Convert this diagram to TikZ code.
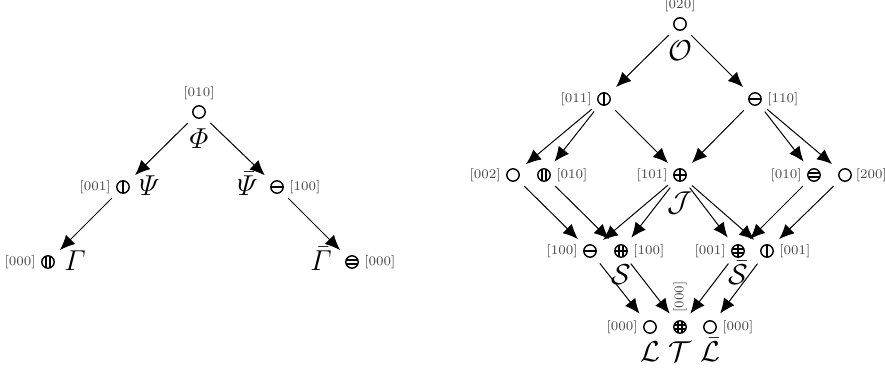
\documentclass[tikz,border=0pt]{standalone}
\usepackage{amsmath}
\usetikzlibrary{arrows.meta,positioning}
% lines inside a cell
\newcommand\vlines[1]{\foreach \off in {#1}{\draw[line width=0.6pt] ([xshift=\off]path picture bounding box.north) -- ([xshift=\off]path picture bounding box.south);}}
\newcommand\hlines[1]{\foreach \off in {#1}{\draw[line width=0.6pt] ([yshift=\off]path picture bounding box.west) -- ([yshift=\off]path picture bounding box.east);}}
\tikzset{cell/.style={draw,line width=0.7pt,circle,minimum size=6.2pt,inner sep=0pt},
  vone/.style={cell,path picture={\vlines{0pt}}},
  vtwo/.style={cell,path picture={\vlines{-1pt,1pt}}},
  hone/.style={cell,path picture={\hlines{0pt}}},
  htwo/.style={cell,path picture={\hlines{-1pt,1pt}}},
  cross/.style={cell,path picture={\vlines{0pt}\hlines{0pt}}},
  crossvv/.style={cell,path picture={\vlines{-1pt,1pt}\hlines{0pt}}},
  crosshh/.style={cell,path picture={\vlines{0pt}\hlines{-1pt,1pt}}},
  grid/.style={cell,path picture={\vlines{-1pt,1pt}\hlines{-1pt,1pt}}},
  tag/.style={font=\fontsize{6.6pt}{8pt}\selectfont,text=black!72,inner sep=1pt},
  sym/.style={font=\Large,inner sep=0.5pt,text height=9.5pt,text depth=1pt},
  flow/.style={line width=0.5pt,-{Latex[length=7.5pt,width=6.5pt]},shorten <=4.5pt,shorten >=5pt}}

\begin{document}
\begin{tikzpicture}[x=0.5pt,y=-0.5pt]
  \useasboundingbox (0,0) rectangle (885,369);
  % left lattice
  \node[cell] (phi) at (199,112) {};
  \node[vone] (psi) at (123,187) {};
  \node[hone] (psib) at (277,187) {};
  \node[vtwo] (gam) at (48,262) {};
  \node[htwo] (gamb) at (352,262) {};
  \node[tag,above=1.2pt of phi] (phi-t) {[010]};
  \node[sym,below=4.5pt of phi] (phi-s) {$\varPhi$};
  \node[tag,left=1.5pt of psi] (psi-t) {[001]};
  \node[sym,right=4pt of psi] (psi-s) {$\varPsi$};
  \node[tag,right=1.5pt of psib] (psib-t) {[100]};
  \node[sym,left=5.5pt of psib] (psib-s) {$\bar{\varPsi}$};
  \node[tag,left=1.5pt of gam] (gam-t) {[000]};
  \node[sym,right=4pt of gam] (gam-s) {$\varGamma$};
  \node[tag,right=1.5pt of gamb] (gamb-t) {[000]};
  \node[sym,left=6pt of gamb] (gamb-s) {$\bar{\varGamma}$};
  \draw[flow] (phi) -- (psi);
  \draw[flow] (phi) -- (psib);
  \draw[flow] (psi) -- (gam);
  \draw[flow] (psib) -- (gamb);

  % right lattice
  \node[cell] (o) at (680,24) {};
  \node[vone] (a) at (604,99) {};
  \node[hone] (b) at (755,99) {};
  \node[cell] (c1) at (513,175) {};
  \node[vtwo] (c2) at (544,175) {};
  \node[cross] (j) at (680,175) {};
  \node[htwo] (c4) at (814,175) {};
  \node[cell] (c5) at (845,175) {};
  \node[hone] (s1) at (590,251) {};
  \node[crossvv] (s2) at (621,251) {};
  \node[crosshh] (s3) at (738,251) {};
  \node[vone] (s4) at (767,251) {};
  \node[cell] (l) at (650,327) {};
  \node[grid] (t) at (680,327) {};
  \node[cell] (lb) at (710,327) {};
  % tags
  \node[tag,above=1.2pt of o] (o-t) {[020]};
  \node[tag,left=1.5pt of a] (a-t) {[011]};
  \node[tag,right=1.5pt of b] (b-t) {[110]};
  \node[tag,left=1.5pt of c1] (c1-t) {[002]};
  \node[tag,right=1.5pt of c2] (c2-t) {[010]};
  \node[tag,left=1.5pt of j] (j-t) {[101]};
  \node[tag,left=1.5pt of c4] (c4-t) {[010]};
  \node[tag,right=0.8pt of c5] (c5-t) {[200]};
  \node[tag,left=1.5pt of s1] (s1-t) {[100]};
  \node[tag,right=1.5pt of s2] (s2-t) {[100]};
  \node[tag,left=1.5pt of s3] (s3-t) {[001]};
  \node[tag,right=1.5pt of s4] (s4-t) {[001]};
  \node[tag,left=1.5pt of l] (l-t) {[000]};
  \node[tag,rotate=90,above=2.5pt of t,anchor=west] (t-t) {[000]};
  \node[tag,right=1.5pt of lb] (lb-t) {[000]};
  % symbols
  \node[sym,below=4.5pt of o] (o-s) {$\mathcal{O}$};
  \node[sym,below=4.5pt of j] (j-s) {$\mathcal{J}$};
  \node[sym,below=3pt of s2] (s2-s) {$\mathcal{S}$};
  \node[sym,below=3pt of s3] (s3-s) {$\bar{\mathcal{S}}$};
  \node[sym,below=3.5pt of l] (l-s) {$\mathcal{L}$};
  \node[sym,below=3.5pt of t] (t-s) {$\mathcal{T}$};
  \node[sym,below=3.5pt of lb] (lb-s) {$\bar{\mathcal{L}}$};
  % arrows
  \foreach \from/\to in {o/a,o/b,a/c1,a/c2,a/j,b/j,b/c4,b/c5,
      c1/s1,c2/s2,j/s1,j/s2,j/s3,j/s4,c4/s3,c5/s4,s1/l,s2/t,s3/t,s4/lb}
    \draw[flow] (\from) -- (\to);
\end{tikzpicture}
\end{document}
